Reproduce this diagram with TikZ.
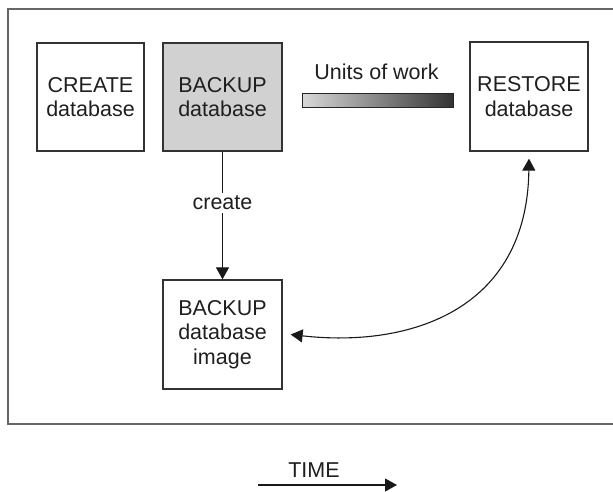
\documentclass[tikz,border=0pt]{standalone}
\usepackage{fontspec}
\setmainfont{Liberation Sans}
\usetikzlibrary{arrows.meta}
\begin{document}
\begin{tikzpicture}[x=1pt,y=-1pt,
  every node/.style={font=\fontsize{21.5}{24.5}\selectfont, text=black!88},
  box/.style={draw=black!80, line width=1.3pt, align=center, inner sep=0pt},
  conn/.style={draw=black!90, line width=1.1pt},
  tip/.style={-{Triangle[length=12pt,width=13pt]}},
  frame/.style={draw=black!60, line width=2pt}
]
\useasboundingbox (0,0) rectangle (613,491);
\draw[frame] (640,9) -- (8,9) -- (8,423.5) -- (640,423.5);

\node[box, minimum width=107pt, minimum height=108pt] (create) at (90.5,97) {CREATE\\database};
\node[box, fill=black!18, minimum width=119pt, minimum height=108pt] (backup) at (222.5,97) {BACKUP\\database};
\node[box, minimum width=118pt, minimum height=109pt] (restore) at (529,96.5) {RESTORE\\database};
\node[box, minimum width=119pt, minimum height=109pt] (image) at (222.5,334.5) {BACKUP\\database\\image};

\node[anchor=base] (units) at (376.5,79) {Units of work};
\shade[left color=black!15, right color=black!80, draw=black!85, line width=1pt] (302,93) rectangle (453,107);

\draw[conn, tip] (backup.south) -- (image.north) node[pos=0.4, fill=white, inner sep=3pt] (lbl) {create};

\coordinate (rs) at ([yshift=-7pt]restore.south);
\coordinate (ie) at ([xshift=8pt]image.east);
\draw[conn, {Triangle[length=12pt,width=13pt]}-{Triangle[length=12pt,width=13pt]}] (rs) .. controls (527,310) and (410,348) .. (ie);

\node[anchor=base] (time) at (314,477) {TIME};
\coordinate (ta) at (258,485);
\coordinate (tb) at (397,485);
\draw[conn, tip] (ta) -- (tb);
\end{tikzpicture}
\end{document}
